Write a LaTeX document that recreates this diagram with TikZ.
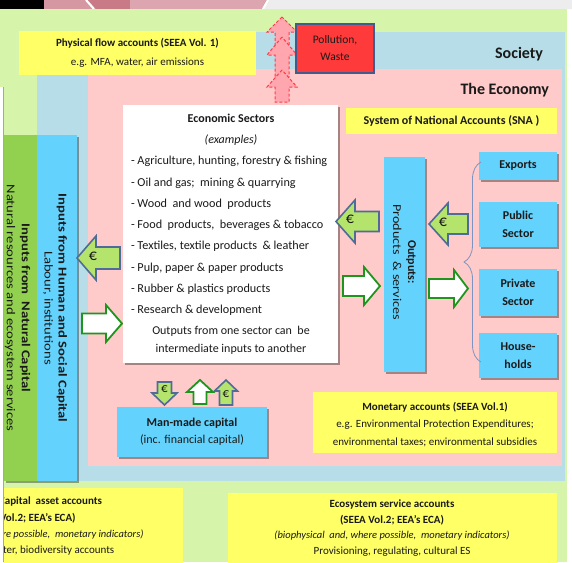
\documentclass[tikz,border=0pt]{standalone}
\usepackage{fontspec}
\setmainfont{Carlito}
\usepackage{graphicx}
\usetikzlibrary{shadows,decorations.pathreplacing}

\definecolor{fieldgreen}{HTML}{D7F5AA}
\definecolor{societyblue}{HTML}{B7DEE8}
\definecolor{economypink}{HTML}{FFCACA}
\definecolor{acctyellow}{HTML}{FFFF66}
\definecolor{skyblue}{HTML}{63D2FC}
\definecolor{natgreen}{HTML}{92D050}
\definecolor{eurofill}{HTML}{B4E46C}
\definecolor{euroline}{HTML}{4F6B97}
\definecolor{flowline}{HTML}{1E961E}
\definecolor{pollred}{HTML}{FF3A3A}
\definecolor{pollframe}{HTML}{3F5C8C}
\definecolor{emitfill}{HTML}{FFA6AE}
\definecolor{emitline}{HTML}{FF3A4A}
\definecolor{bracecol}{HTML}{7F93C0}
\definecolor{tabrose}{HTML}{D597A2}
\definecolor{tabdeep}{HTML}{C97A87}
\definecolor{tablight}{HTML}{DDA5AF}
\definecolor{tabgray}{HTML}{EDEDED}
\definecolor{inktext}{HTML}{1A1A1A}

\newcommand\fsz[2]{\fontsize{#1}{#2}\selectfont}
\newcommand\stretched[1]{\scalebox{1.22}[1]{#1}}
% block arrow: style, tip x, tip y, rotation, length, half head width, half shaft width, head length
% (rotation 0 points left, 180 right, -90 up, 90 down)
\newcommand\blockarrow[8]{%
  \draw[#1,shift={(#2,#3)},rotate=#4] (0,0) -- (#8,#6) -- (#8,#7) -- (#5,#7)
    -- (#5,-#7) -- (#8,-#7) -- (#8,-#6) -- cycle;}

\begin{document}
\begin{tikzpicture}[x=1pt,y=-1pt,
  every node/.style={text=inktext},
  txt/.style={inner sep=0pt,outer sep=0pt,align=center},
  panel/.style={rectangle,inner sep=0pt,outer sep=0pt,align=center},
  softshadow/.style={drop shadow={shadow xshift=1.5pt,shadow yshift=-1.5pt,opacity=.35,fill=black}},
  yellowbox/.style={panel,fill=acctyellow},
  bluebox/.style={panel,fill=skyblue,softshadow},
  whitebox/.style={panel,fill=white,softshadow},
  euroarrow/.style={fill=eurofill,draw=euroline,line width=1.6pt,line join=miter},
  goodsarrow/.style={fill=white,draw=flowline,line width=1.8pt,line join=miter},
  emitarrow/.style={fill=emitfill,draw=emitline,line width=1pt,dash pattern=on 3pt off 2pt},
  euro/.style={txt,font=\fsz{16}{18}},
  smalleuro/.style={txt,font=\fsz{13}{15}}]
\useasboundingbox (0,0) rectangle (572,562);
\clip (0,0) rectangle (572,562);

% window tab strip along the top
\fill[white] (0,0) rectangle (572,562);
\fill[black] (0,0) rectangle (44,9);
\fill[tabrose] (44,0) rectangle (268,9);
\fill[tabdeep] (88,0) -- (130,0) -- (130,9) -- (96,9) -- cycle;
\fill[tablight] (130,0) -- (266,0) -- (262,9) -- (130,9) -- cycle;
\fill[tabgray] (268,0) -- (572,0) -- (572,9) -- (262,9) -- cycle;
\draw[white,line width=2pt] (86,0) -- (94,9);
\draw[white,line width=2pt] (268,0) -- (263,9);

% nested areas: nature, society, economy
\fill[fieldgreen] (0,9) rectangle (567,562);
\fill[societyblue] (37,32) rectangle (565,481);
\fill[economypink] (88,69) rectangle (562,466);

% emissions leaving the economy
\blockarrow{emitarrow}{282}{17}{-90}{30}{15}{7}{15}
\blockarrow{emitarrow}{282}{37}{-90}{40}{15}{7}{18}
\blockarrow{emitarrow}{282}{70}{-90}{32}{15}{7}{17}
\node[panel,fill=pollred,draw=pollframe,line width=1.8pt,minimum width=78pt,minimum height=49pt,
  font=\fsz{11.5}{17}] (pollution) at (335,48.5) {Pollution,\\Waste};

\node[yellowbox,minimum width=237pt,minimum height=44pt,font=\fsz{11}{19}] (physical) at (137.5,53)
  {\textbf{Physical flow accounts (SEEA Vol. 1)}\\e.g. MFA, water, air emissions};

\node[txt,anchor=east,font=\bfseries\fsz{16}{18}] (society) at (543,54) {Society};
\node[txt,anchor=east,font=\bfseries\fsz{16}{18}] (economy) at (549,90.5) {The Economy};

\node[yellowbox,minimum width=211pt,minimum height=26pt,font=\bfseries\fsz{12}{14}] (sna) at (451.5,121)
  {System of National Accounts (SNA )};

% capital inputs
\node[panel,fill=natgreen,minimum width=33pt,minimum height=346pt,softshadow] (natural) at (20.5,308) {};
\node[panel,fill=skyblue,minimum width=40pt,minimum height=346pt,softshadow] (human) at (57,308) {};
\node[txt,rotate=-90,font=\fsz{12}{15}] (naturaltext) at (17.5,308)
  {\stretched{\bfseries Inputs from\ \ Natural Capital}\\\stretched{Natural resources and ecosystem services}};
\node[txt,rotate=-90,font=\fsz{12}{14}] (humantext) at (55,308)
  {\stretched{\bfseries Inputs from Human and Social Capital}\\\stretched{Labour, institutions}};

% economic sectors
\node[whitebox,minimum width=215pt,minimum height=258pt] (sectors) at (230.5,234) {};
\node[txt,font=\bfseries\fsz{12}{14}] (sectorstitle) at (231,118) {Economic Sectors};
\node[txt,font=\itshape\fsz{12}{14}] (sectorsnote) at (231,140) {(examples)};
\node[txt,anchor=west,align=left,font=\fsz{12.2}{21.3}] (sectorslist) at (131,236)
  {- Agriculture, hunting, forestry \& fishing\\
   - Oil and gas;\ \ mining \& quarrying\\
   - Wood\ \ and wood\ \ products\\
   - Food\ \ products,\ \ beverages \& tobacco\\
   - Textiles, textile products\ \ \& leather\\
   - Pulp, paper \& paper products\\
   - Rubber \& plastics products\\
   - Research \& development};
\node[txt,font=\fsz{12}{18}] (sectorsfoot) at (231,340)
  {Outputs from one sector can\ \ be\\intermediate inputs to another};

% outputs and final uses
\node[bluebox,minimum width=41pt,minimum height=215pt] (outputs) at (404.5,264.5) {};
\node[txt,rotate=-90,font=\fsz{12}{15}] (outputstext) at (404.5,262)
  {\textbf{Outputs:}\\\scalebox{1.18}[1]{Products\ \ \& services}};

\node[bluebox,minimum width=78pt,minimum height=28pt,font=\bfseries\fsz{12}{18}] (exports) at (518,166) {Exports};
\node[bluebox,minimum width=78pt,minimum height=45pt,font=\bfseries\fsz{12}{18}] (public) at (518,224.5) {Public\\Sector};
\node[bluebox,minimum width=78pt,minimum height=47pt,font=\bfseries\fsz{12}{18}] (private) at (518,292.5) {Private\\Sector};
\node[bluebox,minimum width=78pt,minimum height=45pt,font=\bfseries\fsz{12}{18}] (households) at (518,355.5) {House-\\holds};

\draw[bracecol,line width=0.8pt,decorate,decoration={brace,amplitude=17pt}] (481,362) -- (481,162);

% money and goods flows
\blockarrow{euroarrow}{77}{258}{0}{43}{22}{11}{19}
\node[euro] (euroA) at (93,256) {€};
\blockarrow{goodsarrow}{122}{323.5}{180}{40}{18.5}{10}{16}
\blockarrow{euroarrow}{336}{221.5}{0}{43}{21.5}{10}{19}
\node[euro] (euroB) at (350,219) {€};
\blockarrow{goodsarrow}{380}{286}{180}{37}{19}{10}{16}
\blockarrow{euroarrow}{429}{224}{0}{39}{21}{10}{19}
\node[euro] (euroC) at (443,222) {€};
\blockarrow{goodsarrow}{468}{288.5}{180}{39}{18.5}{9.5}{14}

% man-made capital
\blockarrow{euroarrow}{164.5}{405}{90}{23}{12.5}{7}{12}
\node[smalleuro] (euroD) at (164.5,389) {€};
\blockarrow{goodsarrow}{200}{380}{-90}{24}{13}{6.5}{12}
\blockarrow{euroarrow}{226}{380}{-90}{25}{11.5}{6.5}{11}
\node[smalleuro] (euroE) at (226,394) {€};
\node[bluebox,minimum width=150pt,minimum height=50pt,font=\fsz{12}{17}] (manmade) at (192,432)
  {\textbf{Man-made capital}\\(inc. financial capital)};

\node[yellowbox,minimum width=244pt,minimum height=61pt] (monetary) at (435,422.5) {};
\node[txt,font=\fsz{11}{17.5}] (monetarytext) at (435,424.5)
  {\textbf{Monetary accounts (SEEA Vol.1)}\\e.g. Environmental Protection Expenditures;\\environmental taxes; environmental subsidies};

% nature accounts along the bottom
\node[yellowbox,minimum width=180pt,minimum height=82pt] (capitalacc) at (93,529) {};
\node[txt,anchor=base west,font=\bfseries\fsz{11}{13}] (capitalA) at (-1,504) {Capital\ \ asset accounts};
\node[txt,anchor=base west,font=\bfseries\fsz{11}{13}] (capitalB) at (0,521) {Vol.2; EEA’s ECA)};
\node[txt,anchor=base west,font=\itshape\fsz{10.5}{13}] (capitalC) at (2.5,537) {re possible,\ \ monetary indicators)};
\node[txt,anchor=base west,font=\fsz{11}{13}] (capitalD) at (3,553) {ter, biodiversity accounts};

\node[yellowbox,minimum width=329pt,minimum height=75pt] (ecosystem) at (392.5,530.5) {};
\node[txt,font=\fsz{11}{15.7}] (ecosystemtext) at (392,528)
  {\textbf{Ecosystem service accounts}\\\textbf{(SEEA Vol.2; EEA’s ECA)}\\
   {\itshape\fsz{10.5}{15.7}(biophysical\ \ and, where possible,\ \ monetary indicators)}\\
   Provisioning, regulating, cultural ES};

% window edge on the left
\fill[white] (0,87) rectangle (3,562);
\draw[black!35,line width=0.6pt] (3.3,87) -- (3.3,562);
\end{tikzpicture}
\end{document}
